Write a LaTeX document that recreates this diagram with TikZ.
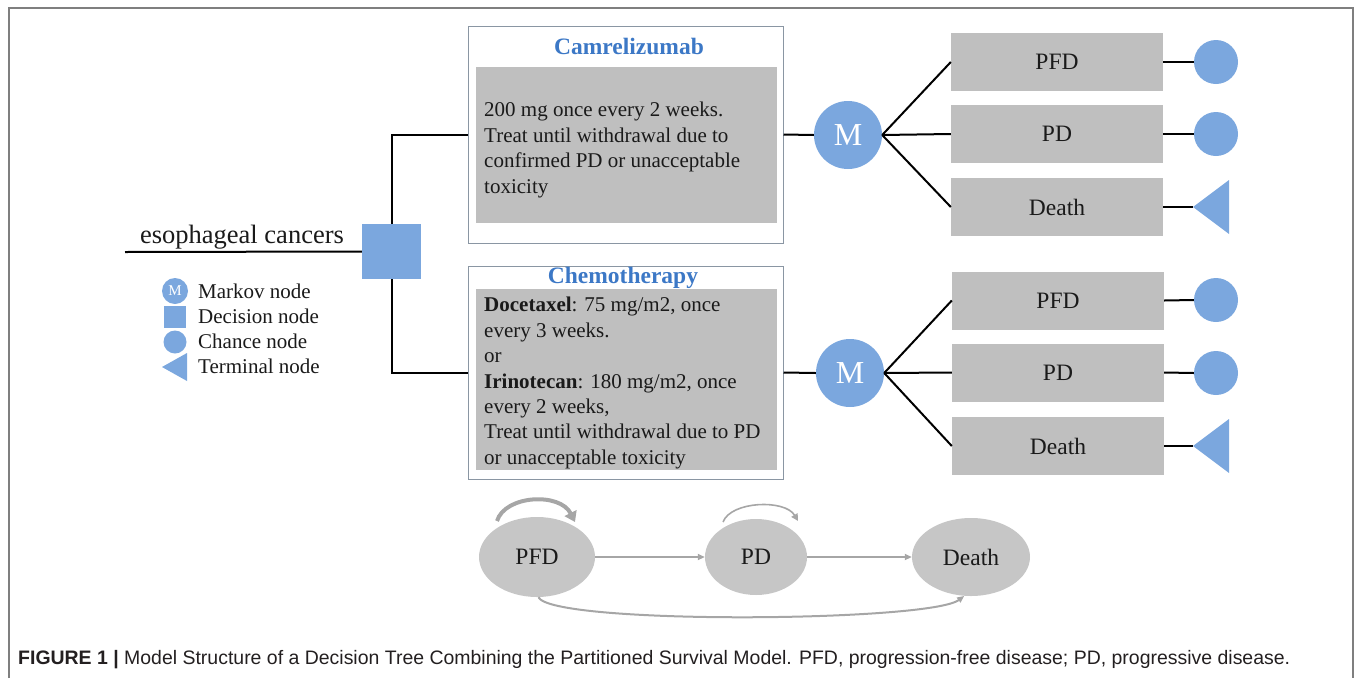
\documentclass[tikz,border=0pt]{standalone}
\usepackage{fontspec}
\usepackage{graphicx}
\setmainfont{Liberation Serif}
\newfontfamily\capfont{Liberation Sans}
\usetikzlibrary{arrows.meta,shapes.geometric,calc}
\definecolor{nodeblue}{HTML}{7BA7DE}
\definecolor{boxgray}{HTML}{BFBFBF}
\definecolor{ellgray}{HTML}{C6C6C6}
\definecolor{arrgray}{HTML}{A6A6A6}
\definecolor{titleblue}{HTML}{3C78C6}
\definecolor{framegray}{HTML}{7F7F7F}
\definecolor{outline}{HTML}{8A96A3}
\definecolor{ink}{HTML}{1A1A1A}
\definecolor{capink}{HTML}{231F20}
\tikzset{
  markov/.style={circle,fill=nodeblue,minimum size=68pt,inner sep=0pt,text=white,font=\fontsize{32}{32}\selectfont},
  chance/.style={circle,fill=nodeblue,minimum size=44pt,inner sep=0pt},
  statebox/.style={rectangle,fill=boxgray,minimum width=212pt,minimum height=58pt,inner sep=0pt,text=ink,font=\fontsize{23.5}{23.5}\selectfont},
  armbox/.style={rectangle,draw=outline,line width=1pt,fill=white,minimum width=315pt,inner sep=0pt},
  inbox/.style={rectangle,fill=boxgray,minimum width=301pt,inner sep=0pt},
  armtitle/.style={text=titleblue,font=\fontsize{23.5}{23.5}\selectfont\bfseries,inner sep=0pt},
  armtext/.style={anchor=west,align=left,text=ink,inner sep=0pt,font=\fontsize{21}{25.4}\selectfont},
  legtext/.style={anchor=west,text=ink,inner sep=0pt,font=\fontsize{21}{21}\selectfont},
  tree/.style={draw=black,line width=2pt},
  mstate/.style={ellipse,fill=ellgray,inner sep=0pt,text=ink,font=\fontsize{23.5}{23.5}\selectfont},
  trans/.style={draw=arrgray,line width=2pt,-{Triangle[length=7pt,width=6pt]}},
}
\begin{document}
\begin{tikzpicture}[x=1pt,y=-1pt]
\useasboundingbox (0,0) rectangle (1355,678);
% frame
\draw[framegray,line width=2pt] (9,678) -- (9,8) -- (1353,8) -- (1353,678);

% decision tree root
\coordinate (root) at (125,252);
\node[rectangle,fill=nodeblue,minimum width=59pt,minimum height=55pt,inner sep=0pt] (dec) at (391.5,251.5) {};
\node[inner sep=0pt,text=ink,font=\fontsize{26.5}{26.5}\selectfont] (esoph) at (242,237) {esophageal cancers};

% arm boxes
\node[armbox,minimum height=217pt] (cam) at (625.5,134.5) {};
\node[inbox,minimum height=156pt] (camin) at (626.5,145) {};
\node[armtitle] (camt) at (629,46) {Camrelizumab};
\node[armtext] (camtxt) at (484,150) {200 mg once every 2 weeks.\\Treat until withdrawal due to\\confirmed PD or unacceptable\\toxicity};

\node[armbox,minimum height=213pt] (chemo) at (625.5,372.5) {};
\node[inbox,minimum height=181pt] (chemoin) at (626.5,379.5) {};
\node[armtitle] (chemot) at (623,278) {Chemotherapy};
\node[armtext] (chemotxt) at (484,383) {\textbf{Docetaxel}: 75 mg/m2, once\\every 3 weeks.\\or\\\textbf{Irinotecan}: 180 mg/m2, once\\every 2 weeks,\\Treat until withdrawal due to PD\\or unacceptable toxicity};

% tree lines
\draw[tree] (root) -- (dec.west);
\draw[tree] (dec.north) |- (cam.west);
\draw[tree] (dec.south) |- (chemo.west);

% Markov nodes
\node[markov] (m1) at (848,135) {M};
\node[markov] (m2) at (850,373) {M};
\draw[tree] (cam.east) -- (m1.west);
\draw[tree] (chemo.east) -- (m2.west);

% state boxes (top)
\node[statebox] (pfd1) at (1057,62) {PFD};
\node[statebox] (pd1) at (1057,134) {PD};
\node[statebox] (de1) at (1057,207) {Death};
% state boxes (bottom)
\node[statebox] (pfd2) at (1058,300.5) {PFD};
\node[statebox] (pd2) at (1058,372.5) {PD};
\node[statebox] (de2) at (1058,446) {Death};

\foreach \b in {pfd1,pd1,de1}{\draw[tree] (m1.east) -- (\b.west);}
\foreach \b in {pfd2,pd2,de2}{\draw[tree] (m2.east) -- (\b.west);}

% chance and terminal nodes
\node[chance] (c1) at (1216,62) {};
\node[chance] (c2) at (1216,134) {};
\node[chance] (c3) at (1216,300) {};
\node[chance] (c4) at (1216,373) {};
\coordinate (t1) at (1193,207);
\coordinate (t2) at (1193,446);
\fill[nodeblue] (t1) -- (1229,180) -- (1229,234) -- cycle;
\fill[nodeblue] (t2) -- (1229,419) -- (1229,473) -- cycle;
\draw[tree] (pfd1.east) -- (c1.west);
\draw[tree] (pd1.east) -- (c2.west);
\draw[tree] (de1.east) -- (t1);
\draw[tree] (pfd2.east) -- (c3.west);
\draw[tree] (pd2.east) -- (c4.west);
\draw[tree] (de2.east) -- (t2);

% legend
\node[circle,fill=nodeblue,minimum size=26pt,inner sep=0pt,text=white,font=\fontsize{15}{15}\selectfont] (lm) at (175,291) {M};
\node[rectangle,fill=nodeblue,minimum width=22pt,minimum height=22pt,inner sep=0pt] (ld) at (175,316.5) {};
\node[circle,fill=nodeblue,minimum size=23pt,inner sep=0pt] (lc) at (175,342) {};
\coordinate (lt) at (162,367);
\fill[nodeblue] (lt) -- (187,353) -- (187,381) -- cycle;
\node[legtext] (lmt) at (198,291) {Markov node};
\node[legtext] (ldt) at (198,316) {Decision node};
\node[legtext] (lct) at (198,341) {Chance node};
\node[legtext] (ltt) at (198,366) {Terminal node};

% Markov state diagram
\node[mstate,minimum width=116pt,minimum height=80pt] (sp) at (537,557) {PFD};
\node[mstate,minimum width=102pt,minimum height=76pt] (sd) at (756,557) {PD};
\node[mstate,minimum width=118pt,minimum height=78pt] (sx) at (971,557) {Death};
\draw[trans] (sp.east) -- (sd.west);
\draw[trans] (sd.east) -- (sx.west);
\draw[trans] (sp.-88) .. controls (552,625) and (930,622) .. (sx.-100);
\coordinate (lp1) at (497,521);
\coordinate (lp2) at (575,522);
\draw[draw=arrgray,line width=4pt,-{Triangle[length=10pt,width=13pt]}] (lp1) .. controls (505,495) and (560,492) .. (lp2);
\coordinate (lq1) at (723,522);
\coordinate (lq2) at (798,521);
\draw[draw=arrgray,line width=1.6pt,-{Triangle[length=7pt,width=7pt]}] (lq1) .. controls (731,501) and (785,499) .. (lq2);

% caption
\node[anchor=west,inner sep=0pt,text=capink] (cap) at (18,660) {\resizebox{1272pt}{\height}{\capfont\fontsize{19.5}{22}\selectfont\textbf{FIGURE 1 |} Model Structure of a Decision Tree Combining the Partitioned Survival Model. PFD, progression-free disease; PD, progressive disease.}};
\end{tikzpicture}
\end{document}
